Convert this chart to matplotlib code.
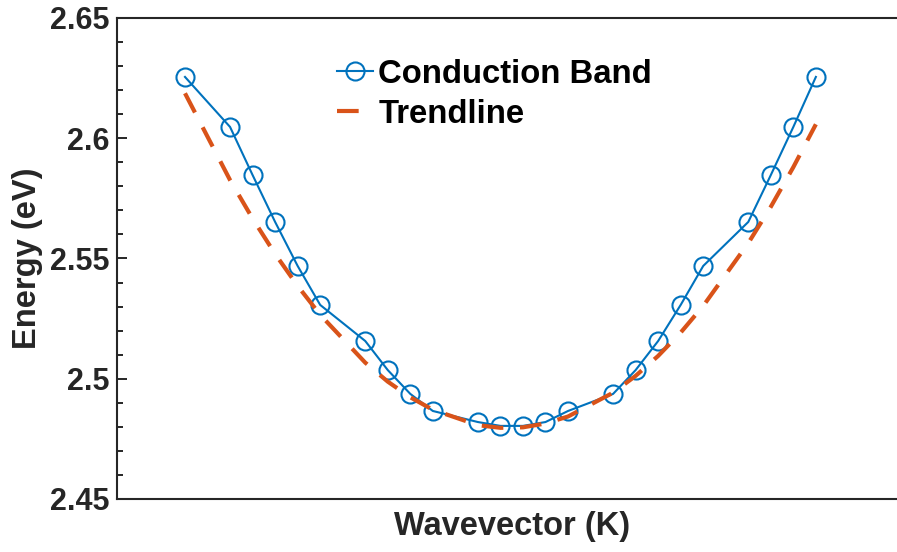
import matplotlib
matplotlib.use("Agg")
import matplotlib.pyplot as plt
from matplotlib.ticker import MultipleLocator

# Data (wavevector index, energy in eV)
k_index = [0, 2, 3, 4, 5, 6, 8, 9, 10, 11, 13, 14, 15, 16, 17, 19, 20, 21, 22, 23, 25, 26, 27, 28]
energy = [2.6255, 2.6047, 2.5847, 2.5652, 2.5469, 2.5307, 2.5157, 2.5036, 2.4937, 2.4866,
          2.4820, 2.4804, 2.4804, 2.4820, 2.4866, 2.4937, 2.5036, 2.5157, 2.5307, 2.5469,
          2.5652, 2.5847, 2.6047, 2.6255]
trend = [2.6187, 2.5826, 2.5666, 2.5519, 2.5386, 2.5266, 2.5067, 2.4988, 2.4923, 2.4871,
         2.4807, 2.4796, 2.4798, 2.4814, 2.4843, 2.4942, 2.5012, 2.5095, 2.5192, 2.5303,
         2.5564, 2.5715, 2.5880, 2.6058]
yticks = [2.45, 2.5, 2.55, 2.6, 2.65]
ytick_labels = ["2.45", "2.5", "2.55", "2.6", "2.65"]

W, H = 897, 552
fig = plt.figure(figsize=(W / 100, H / 100), dpi=100)
left, right, top, bottom = 117.4, 906, 18, 499
ax = fig.add_axes([left / W, 1 - bottom / H, (right - left) / W, (bottom - top) / H])

plt.rcParams['font.family'] = ['Liberation Sans', 'DejaVu Sans']
gray = '#262626'
blue = '#0072BD'
orange = '#D95319'

ax.plot(k_index, energy, '-o', color=blue, lw=1.5, markersize=13,
        markerfacecolor='none', markeredgewidth=1.5, label='Conduction Band')
ax.plot(k_index, trend, '--', color=orange, lw=3, dashes=(5.2, 4.0),
        label='Trendline')

ax.set_xlim(-3, 32)
ax.set_ylim(2.45, 2.65)
ax.set_xticks([])
ax.set_yticks(yticks)
ax.set_yticklabels(ytick_labels, fontsize=22, fontweight='bold', color=gray,
                   family='Liberation Sans')
ax.yaxis.set_minor_locator(MultipleLocator(0.01))
ax.tick_params(axis='y', which='major', direction='in', length=7.2, width=1.4,
               color=gray, pad=6)
ax.tick_params(axis='y', which='minor', direction='in', length=4.3, width=1.4,
               color=gray)
for s in ax.spines.values():
    s.set_linewidth(1.5)
    s.set_color(gray)

ax.set_ylabel('Energy (eV)', fontsize=23.5, fontweight='bold', color=gray,
              family='Liberation Sans', labelpad=5)
ax.set_xlabel('Wavevector (K)', fontsize=23.5, fontweight='bold', color=gray,
              family='Liberation Sans', labelpad=9)

leg = ax.legend(loc='upper left', bbox_to_anchor=(337 / W, 1 - 59 / H),
                bbox_transform=fig.transFigure, frameon=False,
                prop={'family': 'Liberation Sans', 'weight': 'bold', 'size': 23.7},
                handlelength=1.1, handletextpad=0.15, labelspacing=0.26,
                borderpad=0, borderaxespad=0)

fig.savefig('out.png', dpi=100)
